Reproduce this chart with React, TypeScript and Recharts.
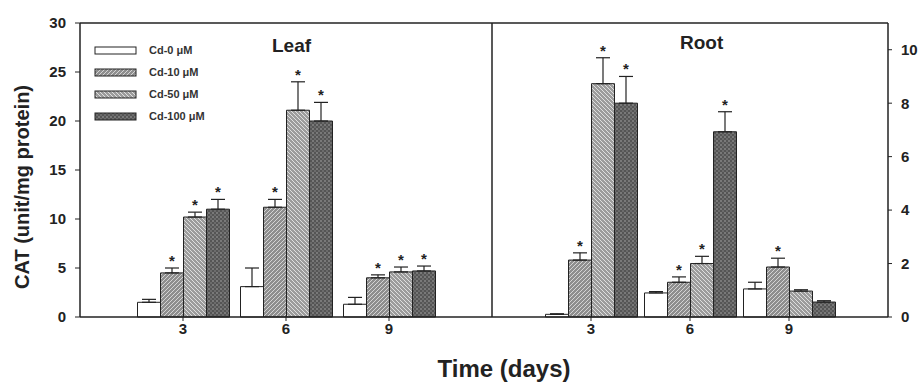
import React from 'react';
import { BarChart, Bar, XAxis, YAxis, ErrorBar, LabelList, ReferenceLine } from 'recharts';

// ---- data ----
const days = [3, 6, 9];
const seriesNames = ['Cd-0 μM', 'Cd-10 μM', 'Cd-50 μM', 'Cd-100 μM'];

const leafCd0 = [1.5, 3.1, 1.3];
const leafCd10 = [4.5, 11.2, 4.0];
const leafCd50 = [10.2, 21.1, 4.6];
const leafCd100 = [11.0, 20.0, 4.7];
const leafErr0 = [0.3, 1.9, 0.7];
const leafErr10 = [0.5, 0.8, 0.3];
const leafErr50 = [0.5, 2.9, 0.5];
const leafErr100 = [1.0, 1.9, 0.5];
const leafStar10 = [true, true, true];
const leafStar50 = [true, true, true];
const leafStar100 = [true, true, true];

const rootCd0 = [0.1, 0.9, 1.05];
const rootCd10 = [2.13, 1.3, 1.87];
const rootCd50 = [8.73, 2.0, 0.97];
const rootCd100 = [8.0, 6.93, 0.56];
const rootErr0 = [0.02, 0.05, 0.25];
const rootErr10 = [0.27, 0.2, 0.33];
const rootErr50 = [0.97, 0.27, 0.05];
const rootErr100 = [1.0, 0.75, 0.05];
const rootStar10 = [true, true, true];
const rootStar50 = [true, true, false];
const rootStar100 = [true, true, false];

const leafTicks = [0, 5, 10, 15, 20, 25, 30];
const rootTicks = [0, 2, 4, 6, 8, 10];
const dayTicks = [3, 6, 9];

const build = (v0, v10, v50, v100, e0, e10, e50, e100) =>
  days.map((d, i) => ({
    day: d,
    v0: v0[i], v10: v10[i], v50: v50[i], v100: v100[i],
    e0: [0, e0[i]], e10: [0, e10[i]], e50: [0, e50[i]], e100: [0, e100[i]],
  }));

const leafData = build(leafCd0, leafCd10, leafCd50, leafCd100, leafErr0, leafErr10, leafErr50, leafErr100);
const rootData = build(rootCd0, rootCd10, rootCd50, rootCd100, rootErr0, rootErr10, rootErr50, rootErr100);

const FONT = '"Liberation Sans", Arial, sans-serif';
const INK = '#222';
const fills = ['#ffffff', 'url(#p10)', 'url(#p50)', 'url(#p100)'];

const starContent = (stars, errs) => (props) => {
  const { x, y, width, height, value, index } = props;
  if (!stars[index] || !value) return null;
  const ppu = Number(height) / Number(value);
  const top = Number(y) - errs[index] * ppu;
  return (
    <text x={Number(x) + Number(width) / 2} y={top - 2} textAnchor="middle" fontSize={15} fontWeight={700} fill={INK}>
      *
    </text>
  );
};

const LegendBox = () => (
  <div style={{ fontFamily: FONT, width: 150, whiteSpace: 'nowrap' }}>
    {seriesNames.map((n, i) => (
      <div key={n} style={{ display: 'flex', alignItems: 'center', height: 22 }}>
        <svg width={44} height={9} style={{ display: 'block', flex: 'none' }}>
          <rect x={1} y={1} width={41} height={7} fill={fills[i]} stroke={INK} strokeWidth={1} />
        </svg>
        <span style={{ marginLeft: 11, fontSize: 11, fontWeight: 700, color: '#333', whiteSpace: 'nowrap' }}>{n}</span>
      </div>
    ))}
  </div>
);

const renderBars = (stars, errs) => {
  const keys = ['0', '10', '50', '100'];
  return keys.map((k, i) => (
    <Bar key={k} dataKey={'v' + k} fill={fills[i]} stroke={INK} strokeWidth={1} isAnimationActive={false}>
      <ErrorBar dataKey={'e' + k} width={7} stroke={INK} strokeWidth={1.2} direction="y" />
      {i > 0 ? <LabelList dataKey={'v' + k} content={starContent(stars[i - 1], errs[i])} /> : null}
    </Bar>
  ));
};

const tickStyle = { fontSize: 15, fontWeight: 700, fill: INK, fontFamily: FONT };

export default function App() {
  return (
    <div style={{ position: 'absolute', left: 0, top: 0, width: 920, height: 388, background: '#fff', fontFamily: FONT }}>
      <svg width={0} height={0} style={{ position: 'absolute' }}>
        <defs>
          <pattern id="p10" patternUnits="userSpaceOnUse" width={4} height={4}>
            <rect width={4} height={4} fill="#8e8e8e" />
            <path d="M-1,1 l2,-2 M0,4 l4,-4 M3,5 l2,-2" stroke="#dcdcdc" strokeWidth={0.9} />
          </pattern>
          <pattern id="p50" patternUnits="userSpaceOnUse" width={4} height={4}>
            <rect width={4} height={4} fill="#9c9c9c" />
            <path d="M-1,3 l2,2 M0,0 l4,4 M3,-1 l2,2" stroke="#e6e6e6" strokeWidth={0.9} />
          </pattern>
          <pattern id="p100" patternUnits="userSpaceOnUse" width={4} height={4}>
            <rect width={4} height={4} fill="#555555" />
            <circle cx={1} cy={1} r={0.8} fill="#a8a8a8" />
            <circle cx={3} cy={3} r={0.8} fill="#8a8a8a" />
          </pattern>
        </defs>
      </svg>

      <div style={{ position: 'absolute', left: 0, top: 0 }}>
        <BarChart width={493} height={388} data={leafData} margin={{ top: 23, right: 1, left: 0, bottom: 41 }} barSize={23} barGap={0}>
          <XAxis dataKey="day" type="number" domain={[0, 12]} ticks={dayTicks} interval={0} height={30}
            axisLine={{ stroke: INK, strokeWidth: 1.5 }} tickLine={{ stroke: INK }} tickSize={4} tickMargin={2} tick={tickStyle} />
          <YAxis domain={[0, 30]} ticks={leafTicks} width={80} interval={0}
            axisLine={{ stroke: INK, strokeWidth: 1.5 }} tickLine={{ stroke: INK }} tickSize={5} tickMargin={9} tick={tickStyle} />
          <ReferenceLine y={30} stroke={INK} strokeWidth={1.5} />
          <ReferenceLine x={12} stroke={INK} strokeWidth={1.5} />
          {renderBars([leafStar10, leafStar50, leafStar100], [leafErr0, leafErr10, leafErr50, leafErr100])}
        </BarChart>
      </div>

      <div style={{ position: 'absolute', left: 94, top: 39, width: 150 }}>
        <LegendBox />
      </div>

      <div style={{ position: 'absolute', left: 492, top: 0 }}>
        <BarChart width={428} height={388} data={rootData} margin={{ top: 23, right: 0, left: 0, bottom: 41 }} barSize={23} barGap={0}>
          <XAxis dataKey="day" type="number" domain={[0, 12]} ticks={dayTicks} interval={0} height={30}
            axisLine={{ stroke: INK, strokeWidth: 1.5 }} tickLine={{ stroke: INK }} tickSize={4} tickMargin={2} tick={tickStyle} />
          <YAxis orientation="right" domain={[0, 11]} ticks={rootTicks} width={32} interval={0}
            axisLine={{ stroke: INK, strokeWidth: 1.5 }} tickLine={{ stroke: INK }} tickSize={4} tickMargin={9} tick={tickStyle} />
          <ReferenceLine y={11} stroke={INK} strokeWidth={1.5} />
          {renderBars([rootStar10, rootStar50, rootStar100], [rootErr0, rootErr10, rootErr50, rootErr100])}
        </BarChart>
      </div>

      <div style={{ position: 'absolute', left: 272, top: 36, fontSize: 19, fontWeight: 700, color: INK, lineHeight: 1, whiteSpace: 'nowrap' }}>Leaf</div>
      <div style={{ position: 'absolute', left: 680, top: 33, fontSize: 19, fontWeight: 700, color: INK, lineHeight: 1, whiteSpace: 'nowrap' }}>Root</div>

      <div style={{ position: 'absolute', left: 504, top: 357, transform: 'translateX(-50%)', fontSize: 24, fontWeight: 700, color: INK, lineHeight: 1, whiteSpace: 'nowrap' }}>
        Time (days)
      </div>
      <div style={{ position: 'absolute', left: 22, top: 187, transform: 'translate(-50%, -50%) rotate(-90deg)', fontSize: 20, fontWeight: 700, color: INK, lineHeight: 1, whiteSpace: 'nowrap' }}>
        CAT (unit/mg protein)
      </div>
    </div>
  );
}
